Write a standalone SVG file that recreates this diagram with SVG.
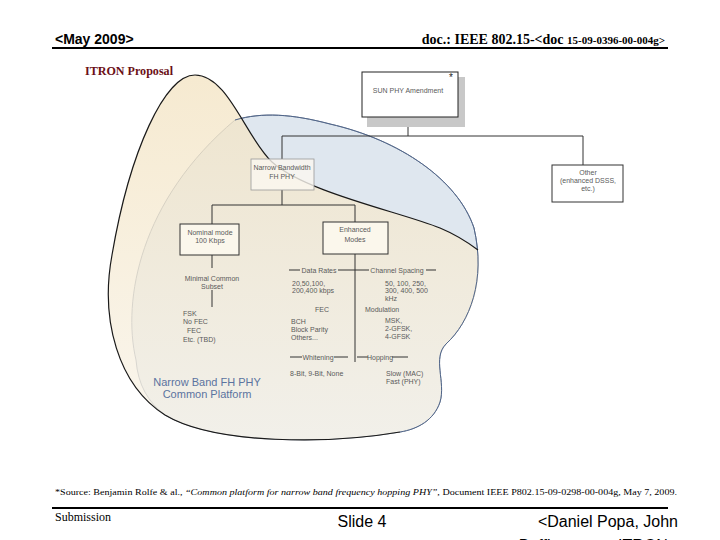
<svg xmlns="http://www.w3.org/2000/svg" width="720" height="540" viewBox="0 0 720 540">
<style>
.n{font-family:"Liberation Sans",Arial,sans-serif;font-size:7px;fill:#5a5a5a}
.nc{font-family:"Liberation Sans",Arial,sans-serif;font-size:7px;fill:#5a5a5a;text-anchor:middle}
.box{fill:#fbf7ec;stroke:#333;stroke-width:1}
.ln{stroke:#333;stroke-width:1;fill:none}
.tm{font-family:"Liberation Serif","Times New Roman",serif}
.ar{font-family:"Liberation Sans",Arial,sans-serif}
</style>
<defs>
<linearGradient id="bg" x1="0" y1="0" x2="0" y2="1">
<stop offset="0" stop-color="#f3e3c1"/>
<stop offset="1" stop-color="#f8f3e8"/>
</linearGradient>
</defs>
<rect width="720" height="540" fill="#fff"/>
<g id="header">
<text x="55" y="44" class="ar" font-size="14" font-weight="bold">&lt;May 2009&gt;</text>
<text x="665" y="44" class="tm" font-weight="bold" text-anchor="end"><tspan font-size="14">doc.: IEEE 802.15-&lt;doc </tspan><tspan font-size="11">15-09-0396-00-004g&gt;</tspan></text>
<line x1="52" y1="48" x2="668" y2="48" stroke="#000" stroke-width="2"/>
<text x="85" y="75" class="tm" font-size="12" font-weight="bold" fill="#6b1016" textLength="88" lengthAdjust="spacingAndGlyphs">ITRON Proposal</text>
</g>
<g id="blobs">
<path d="M235,120 C262,112 292,114 330,124 C400,140 458,180 474,228 C486,280 470,322 446,344 C432,358 446,382 440,402 C434,420 418,429 400,432 C330,444 215,445 165,415 C148,402 138,385 136,360 C122,300 140,200 235,120 Z" fill="#dfe7ef" stroke="#7d8aa0" stroke-width="1"/>
<path d="M195,75 C165,75 130,150 112,255 C100,320 118,385 165,415 C215,445 330,444 400,432 C418,429 434,420 440,402 C446,382 432,358 446,344 C470,322 482,290 478,250 C462,238 452,233 440,228 C400,212 305,192 272,162 C246,138 228,75 195,75 Z" fill="url(#bg)" fill-opacity="0.75"/>
<path d="M474,228 C486,280 470,322 446,344 C432,358 446,382 440,402 C434,420 418,429 400,432" fill="none" stroke="#51668a" stroke-width="1"/>
<path d="M235,120 C262,112 292,114 330,124 C400,140 458,180 474,228" fill="none" stroke="#51668a" stroke-width="1"/>
<path d="M478,250 C462,238 452,233 440,228 C400,212 305,192 272,162 C246,138 228,75 195,75 C165,75 130,150 112,255 C100,320 118,385 165,415 C215,445 330,444 400,432" fill="none" stroke="#1a1a1a" stroke-width="1.2"/>
</g>
<g id="connectors">
<path class="ln" d="M408,117 V136 M282,136 H583 M282,136 V159 M583,136 V165"/>
<path class="ln" d="M282,190 V205 M212,205 H355 M212,205 V224 M355,205 V222"/>
<path class="ln" d="M212,255 V268 M212,290 V307"/>
<path class="ln" d="M355,254 V362"/>
<path class="ln" d="M289,270 H300 M338,270 H355 M355,270 H369 M426,270 H436"/>
<path class="ln" d="M290,357 H302 M334,357 H348 M357,357 H368 M392,357 H408"/>
</g>
<g id="sun">
<rect x="367" y="77" width="98" height="50" fill="#c8c8c8"/>
<rect x="362" y="72" width="96" height="45" fill="#fff" stroke="#222" stroke-width="1"/>
<text x="449" y="81" class="ar" font-size="10" fill="#222">*</text>
<text x="408" y="93" class="nc">SUN PHY Amendment</text>
</g>
<g id="narrow">
<rect x="251" y="159" width="63" height="31" fill="#fbf8f0" fill-opacity="0.8" stroke="#999" stroke-width="0.8"/>
<text x="282" y="170" class="nc">Narrow Bandwidth</text>
<text x="282" y="179" class="nc">FH PHY</text>
</g>
<g id="other">
<rect x="552" y="165" width="71" height="37" fill="#fff" stroke="#333"/>
<text x="588" y="175" class="nc">Other</text>
<text x="588" y="183" class="nc">(enhanced DSSS,</text>
<text x="588" y="191" class="nc">etc.)</text>
</g>
<g id="nominal">
<rect x="180" y="224" width="59" height="31" class="box"/>
<text x="210" y="235" class="nc">Nominal mode</text>
<text x="210" y="243" class="nc">100 Kbps</text>
</g>
<g id="enhanced">
<rect x="323" y="222" width="65" height="32" class="box"/>
<text x="355" y="232" class="nc">Enhanced</text>
<text x="355" y="242" class="nc">Modes</text>
</g>
<g id="minimal">
<text x="212" y="281" class="nc">Minimal Common</text>
<text x="212" y="289" class="nc">Subset</text>
<text x="183" y="316" class="n">FSK</text>
<text x="183" y="324" class="n">No FEC</text>
<text x="187" y="333" class="n">FEC</text>
<text x="183" y="342" class="n">Etc. (TBD)</text>
</g>
<g id="details">
<text x="319" y="273" class="nc">Data Rates</text>
<text x="397" y="273" class="nc">Channel Spacing</text>
<text x="292" y="286" class="n">20,50,100,</text>
<text x="292" y="293" class="n">200,400 kbps</text>
<text x="385" y="286" class="n">50, 100, 250,</text>
<text x="385" y="293" class="n">300, 400, 500</text>
<text x="385" y="301" class="n">kHz</text>
<text x="322" y="312" class="nc">FEC</text>
<text x="365" y="312" class="n">Modulation</text>
<text x="291" y="324" class="n">BCH</text>
<text x="291" y="332" class="n">Block Parity</text>
<text x="291" y="340" class="n">Others...</text>
<text x="385" y="323" class="n">MSK,</text>
<text x="385" y="331" class="n">2-GFSK,</text>
<text x="385" y="339" class="n">4-GFSK</text>
<text x="318" y="360" class="nc">Whitening</text>
<text x="380" y="360" class="nc">Hopping</text>
<text x="290" y="376" class="n">8-Bit, 9-Bit, None</text>
<text x="386" y="376" class="n">Slow (MAC)</text>
<text x="386" y="384" class="n">Fast (PHY)</text>
</g>
<g id="platform">
<text x="207" y="386" class="ar" font-size="11" fill="#5b73a0" text-anchor="middle">Narrow Band FH PHY</text>
<text x="207" y="398" class="ar" font-size="11" fill="#5b73a0" text-anchor="middle">Common Platform</text>
</g>
<g id="footer">
<text x="55" y="495" class="tm" font-size="9" textLength="622" lengthAdjust="spacingAndGlyphs">*Source:  Benjamin Rolfe &amp; al., <tspan font-style="italic">“Common platform for narrow band frequency hopping PHY”</tspan>, Document IEEE P802.15-09-0298-00-004g, May 7, 2009.</text>
<line x1="52" y1="508" x2="668" y2="508" stroke="#000" stroke-width="2"/>
<text x="55" y="521" class="tm" font-size="12">Submission</text>
<text x="362" y="527" class="ar" font-size="16" text-anchor="middle">Slide 4</text>
<text x="678" y="527" class="ar" font-size="16" text-anchor="end">&lt;Daniel Popa, John</text>
<text x="598" y="551" class="ar" font-size="16" text-anchor="middle">Buffington&gt;, &lt;ITRON&gt;</text>
</g>
</svg>
